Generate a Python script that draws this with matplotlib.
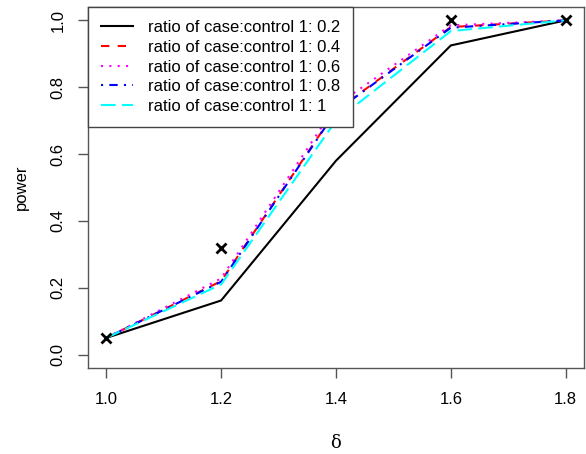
import numpy as np
import matplotlib
matplotlib.use("Agg")
import matplotlib.pyplot as plt

plt.rcParams['font.family'] = ['Liberation Sans', 'DejaVu Sans']

# power by effect size for each case:control ratio
delta = [1.0, 1.2, 1.4, 1.6, 1.8]
power_02 = [0.05, 0.162, 0.58, 0.925, 1.0]
power_04 = [0.05, 0.220, 0.730, 0.980, 1.0]
power_06 = [0.05, 0.228, 0.745, 0.985, 1.0]
power_08 = [0.05, 0.218, 0.728, 0.978, 1.0]
power_10 = [0.05, 0.210, 0.700, 0.968, 1.0]
simulated = [0.05, 0.32, 0.875, 1.0, 1.0]

ratios = ['0.2', '0.4', '0.6', '0.8', '1']
series = [power_02, power_04, power_06, power_08, power_10]
colors = ['black', 'red', 'magenta', 'blue', 'cyan']
dashes = [None, (4, 4), (1, 3), (1, 3, 4, 3), (7, 3)]

fig = plt.figure(figsize=(5.86, 4.54), dpi=100)
ax = fig.add_axes([0.150, 0.1894, 0.8466, 0.7952])

for vals, c, d, r in zip(series, colors, dashes, ratios):
    line, = ax.plot(delta, vals, color=c, lw=1.5,
                    label='ratio of case:control 1: ' + r)
    if d is not None:
        line.set_dashes(d)

ax.plot(delta, simulated, linestyle='none', marker='x', color='black',
        markersize=7, markeredgewidth=2)

ax.set_xlim(0.968, 1.832)
ax.set_ylim(-0.04, 1.04)
ax.set_xticks([1.0, 1.2, 1.4, 1.6, 1.8])
ax.set_yticks([0.0, 0.2, 0.4, 0.6, 0.8, 1.0])
ax.set_xticklabels(['1.0', '1.2', '1.4', '1.6', '1.8'])
ax.set_yticklabels(['0.0', '0.2', '0.4', '0.6', '0.8', '1.0'],
                   rotation=90, va='center')

for s in ax.spines.values():
    s.set_color('#555555')
    s.set_linewidth(1)
ax.tick_params(direction='out', length=7, width=1, color='#555555',
               labelsize=12)
ax.tick_params(axis='x', pad=10)
ax.tick_params(axis='y', pad=9)

ax.set_xlabel('δ', fontsize=13, family=['DejaVu Serif'], labelpad=20)
ax.set_ylabel('power', fontsize=12, labelpad=16)

leg = ax.legend(loc='upper left', bbox_to_anchor=(0, 1), borderaxespad=0,
                fontsize=12, fancybox=False, framealpha=1,
                edgecolor='#444444', handlelength=1.9, handletextpad=0.9,
                labelspacing=0.28, borderpad=0.8)
leg.get_frame().set_linewidth(1)

fig.savefig('out.png', dpi=100)
